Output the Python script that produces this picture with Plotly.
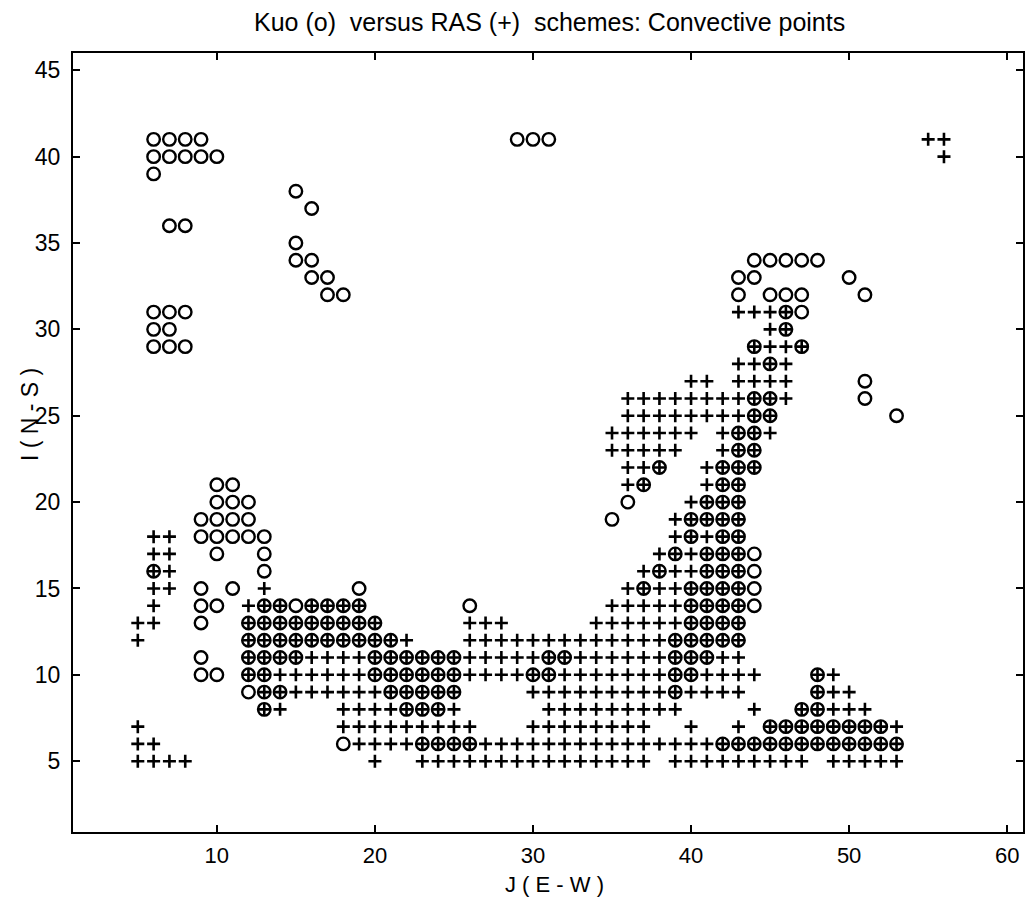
import plotly.graph_objects as go

# Kuo scheme (o) convective points: rows I and the J columns in each row
kuo_rows = [41, 40, 39, 38, 37, 36, 35, 34, 33, 32, 31, 30, 29, 28, 27, 26, 25, 24, 23,
            22, 21, 20, 19, 18, 17, 16, 15, 14, 13, 12, 11, 10, 9, 8, 7, 6]
kuo_cols = [
    [6, 7, 8, 9, 29, 30, 31],
    [6, 7, 8, 9, 10],
    [6],
    [15],
    [16],
    [7, 8],
    [15],
    [15, 16, 44, 45, 46, 47, 48],
    [16, 17, 43, 44, 50],
    [17, 18, 43, 45, 46, 47, 51],
    [6, 7, 8, 46, 47],
    [6, 7, 46],
    [6, 7, 8, 44, 47],
    [45],
    [51],
    [44, 45, 51],
    [44, 45, 53],
    [43, 44],
    [43, 44],
    [38, 42, 43, 44],
    [10, 11, 37, 42, 43],
    [10, 11, 12, 36, 41, 42, 43],
    [9, 10, 11, 12, 35, 40, 41, 42, 43],
    [9, 10, 11, 12, 13, 40, 42, 43],
    [10, 13, 39, 41, 42, 43, 44],
    [6, 13, 38, 41, 42, 43, 44],
    [9, 11, 19, 37, 40, 41, 42, 43, 44],
    [9, 10, 13, 14, 15, 16, 17, 18, 19, 26, 40, 41, 42, 43, 44],
    [9, 12, 13, 14, 15, 16, 17, 18, 19, 20, 40, 41, 42, 43],
    [12, 13, 14, 15, 16, 17, 18, 19, 20, 21, 39, 40, 41, 42, 43],
    [9, 12, 13, 14, 15, 20, 21, 22, 23, 24, 25, 31, 32, 39, 40, 41],
    [9, 10, 12, 13, 20, 21, 22, 23, 24, 25, 30, 31, 39, 40, 48],
    [12, 13, 14, 21, 22, 23, 24, 25, 39, 48],
    [13, 22, 23, 24, 47, 48],
    [45, 46, 47, 48, 49, 50, 51, 52],
    [18, 23, 24, 25, 26, 42, 43, 44, 45, 46, 47, 48, 49, 50, 51, 52, 53],
]

# RAS scheme (+) convective points
ras_rows = [41, 40, 31, 30, 29, 28, 27, 26, 25, 24, 23, 22, 21, 20, 19, 18, 17, 16, 15,
            14, 13, 12, 11, 10, 9, 8, 7, 6, 5]
ras_cols = [
    [55, 56],
    [56],
    [43, 44, 45, 46],
    [45, 46],
    [44, 45, 46, 47],
    [43, 44, 45, 46],
    [40, 41, 43, 44, 45, 46],
    [36, 37, 38, 39, 40, 41, 42, 43, 44, 45, 46],
    [36, 37, 38, 39, 40, 41, 42, 43, 44, 45],
    [35, 36, 37, 38, 39, 40, 42, 43, 44, 45],
    [35, 36, 37, 38, 39, 42, 43, 44],
    [36, 37, 38, 41, 42, 43, 44],
    [36, 37, 41, 42, 43],
    [40, 41, 42, 43],
    [39, 40, 41, 42, 43],
    [6, 7, 39, 40, 41, 42, 43],
    [6, 7, 38, 39, 40, 41, 42, 43],
    [6, 7, 37, 38, 39, 40, 41, 42, 43],
    [6, 7, 13, 36, 37, 38, 39, 40, 41, 42, 43],
    [6, 12, 13, 14, 16, 17, 18, 19, 35, 36, 37, 38, 39, 40, 41, 42, 43],
    [5, 6, 12, 13, 14, 15, 16, 17, 18, 19, 20, 26, 27, 28, 34, 35, 36, 37, 38, 39, 40,
     41, 42, 43],
    [5, 12, 13, 14, 15, 16, 17, 18, 19, 20, 21, 22, 26, 27, 28, 29, 30, 31, 32, 33, 34,
     35, 36, 37, 38, 39, 40, 41, 42, 43],
    [12, 13, 14, 15, 16, 17, 18, 19, 20, 21, 22, 23, 24, 25, 26, 27, 28, 29, 30, 31, 32,
     33, 34, 35, 36, 37, 38, 39, 40, 41, 42, 43],
    [12, 13, 14, 15, 16, 17, 18, 19, 20, 21, 22, 23, 24, 25, 26, 27, 28, 29, 30, 31, 32,
     33, 34, 35, 36, 37, 38, 39, 40, 41, 42, 43, 44, 48, 49],
    [13, 14, 15, 16, 17, 18, 19, 20, 21, 22, 23, 24, 25, 30, 31, 32, 33, 34, 35, 36, 37,
     38, 39, 40, 41, 42, 43, 48, 49, 50],
    [13, 14, 18, 19, 20, 21, 22, 23, 24, 25, 31, 32, 33, 34, 35, 36, 37, 38, 39, 44, 47,
     48, 49, 50, 51],
    [5, 18, 19, 20, 21, 22, 23, 24, 25, 26, 30, 31, 32, 33, 34, 35, 36, 37, 40, 43, 45,
     46, 47, 48, 49, 50, 51, 52, 53],
    [5, 6, 19, 20, 21, 22, 23, 24, 25, 26, 27, 28, 29, 30, 31, 32, 33, 34, 35, 36, 37,
     38, 39, 40, 41, 42, 43, 44, 45, 46, 47, 48, 49, 50, 51, 52, 53],
    [5, 6, 7, 8, 20, 23, 24, 25, 26, 27, 28, 29, 30, 31, 32, 33, 34, 35, 36, 37, 39, 40,
     41, 42, 43, 44, 45, 46, 47, 49, 50, 51, 52, 53],
]

x_ticks = [10, 20, 30, 40, 50, 60]
y_ticks = [5, 10, 15, 20, 25, 30, 35, 40, 45]

title_text = "Kuo (o)  versus RAS (+)  schemes: Convective points"
x_title = "J ( E - W )"
y_title = "I ( N - S )"


def expand(rows, cols):
    xs, ys = [], []
    for r, cs in zip(rows, cols):
        for c in cs:
            xs.append(c)
            ys.append(r)
    return xs, ys


kx, ky = expand(kuo_rows, kuo_cols)
rx, ry = expand(ras_rows, ras_cols)

FONT = "Liberation Sans, Arial, Helvetica, sans-serif"

fig = go.Figure()
fig.add_trace(go.Scatter(
    x=kx, y=ky, mode="markers", name="Kuo (o)",
    marker=dict(symbol="circle-open", size=12.5, color="black",
                line=dict(width=2.4, color="black")),
))
fig.add_trace(go.Scatter(
    x=rx, y=ry, mode="markers", name="RAS (+)",
    marker=dict(symbol="cross-thin-open", size=9.3, color="black",
                line=dict(width=2.6, color="black")),
))

L, R, T, B = 73, 1025, 53, 832
W, H = 1027, 897


def px2paper(px, py):
    return (px - L) / (R - L), (B - py) / (B - T)


tx, ty = px2paper(551, 22)
xx, xy = px2paper(556, 884)
yx, yy = px2paper(30, 415)

fig.update_layout(
    width=W, height=H,
    margin=dict(l=L, r=W - R, t=T, b=H - B),
    paper_bgcolor="white", plot_bgcolor="white",
    showlegend=False,
    font=dict(family=FONT, color="black"),
    xaxis=dict(range=[0.9, 61], tickvals=x_ticks, ticks="inside", ticklen=7, tickwidth=2,
               tickcolor="black", showline=True, linewidth=2, linecolor="black",
               mirror="ticks", showgrid=False, zeroline=False,
               tickfont=dict(size=22, family=FONT, color="black"), ticklabelstandoff=3),
    yaxis=dict(range=[0.9, 46], tickvals=y_ticks, ticks="inside", ticklen=7, tickwidth=2,
               tickcolor="black", showline=True, linewidth=2, linecolor="black",
               mirror="ticks", showgrid=False, zeroline=False,
               tickfont=dict(size=23, family=FONT, color="black"), ticklabelstandoff=6),
    annotations=[
        dict(text=title_text, x=tx, y=ty, xref="paper", yref="paper", showarrow=False,
             xanchor="center", yanchor="middle", font=dict(size=25, family=FONT)),
        dict(text=x_title, x=xx, y=xy, xref="paper", yref="paper", showarrow=False,
             xanchor="center", yanchor="middle", font=dict(size=22, family=FONT)),
        dict(text=y_title, x=yx, y=yy, xref="paper", yref="paper", showarrow=False,
             xanchor="center", yanchor="middle", textangle=-90,
             font=dict(size=23, family=FONT)),
    ],
)

fig.write_html("out.html")
